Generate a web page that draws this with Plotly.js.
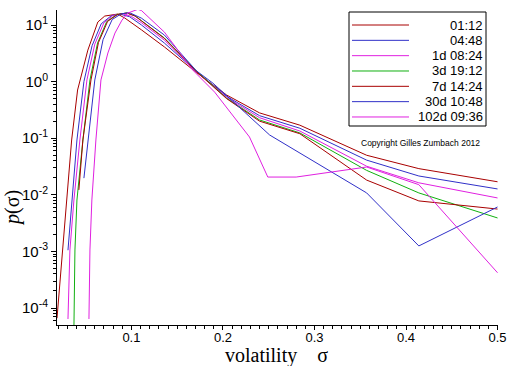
<!DOCTYPE html>
<html>
<head>
<meta charset="utf-8">
<script src="https://cdn.plot.ly/plotly-3.0.1.min.js"></script>
<style>html,body{margin:0;padding:0;background:#fff;}#chart{width:512px;height:366px;}</style>
</head>
<body>
<div id="chart"></div>
<script>
// Series names (legend) and colours
const seriesNames = ["01:12", "04:48", "1d 08:24", "3d 19:12", "7d 14:24", "30d 10:48", "102d 09:36"];
const seriesColors = ["#a80000", "#3030c8", "#e020e0", "#10b010", "#a80000", "#3030c8", "#e020e0"];

// volatility values (x) and densities p(sigma) (y) per series
const sigma0112 = [0.0187,0.0238,0.0292,0.0347,0.0412,0.0524,0.0633,0.0709,0.085,0.0927,0.111,0.136,0.171,0.204,0.24,0.284,0.357,0.414,0.5];
const p0112     = [6.6e-5,7.0e-4,8.1e-3,0.093,0.71,3.6,11.3,14.4,15.6,13.3,8.2,4.1,1.45,0.58,0.28,0.17,0.05,0.029,0.017];

const sigma0448 = [0.0307,0.035,0.0405,0.0481,0.057,0.067,0.078,0.088,0.098,0.111,0.136,0.171,0.204,0.24,0.284,0.357,0.414,0.5];
const p0448     = [1.05e-3,8.1e-3,0.093,1.0,4.3,10.5,14.6,15.5,14.0,10.0,4.8,1.5,0.55,0.25,0.15,0.041,0.0215,0.0127];

const sigma1d   = [0.0307,0.0328,0.0372,0.0437,0.0514,0.06,0.07,0.08,0.09,0.1,0.111,0.136,0.171,0.204,0.24,0.284,0.357,0.414,0.5];
const p1d       = [6.4e-5,1.06e-3,8.1e-3,0.093,1.07,4.6,11.0,14.8,15.8,14.2,11.0,5.4,1.5,0.53,0.23,0.134,0.032,0.0163,0.0088];

const sigma3d   = [0.0372,0.0383,0.0405,0.047,0.0547,0.063,0.073,0.084,0.095,0.104,0.111,0.136,0.171,0.204,0.24,0.284,0.357,0.414,0.5];
const p3d       = [4.5e-5,1.06e-3,8.1e-3,0.093,1.07,4.8,11.5,15.3,16.3,14.5,11.9,5.9,1.55,0.51,0.21,0.124,0.027,0.0108,0.0039];

const sigma7d   = [0.0426,0.047,0.0558,0.064,0.074,0.085,0.095,0.104,0.111,0.136,0.171,0.204,0.24,0.284,0.357,0.414,0.5];
const p7d       = [0.0122,0.093,1.07,4.9,11.6,15.4,16.3,14.4,11.8,5.8,1.5,0.5,0.2,0.12,0.0182,0.0078,0.0056];

const sigma30d  = [0.0481,0.0525,0.06,0.069,0.079,0.089,0.098,0.111,0.136,0.171,0.189,0.251,0.357,0.414,0.5];
const p30d      = [0.0197,0.093,1.07,5.5,12.5,15.8,16.5,13.2,6.65,1.55,0.94,0.114,0.0108,0.00125,0.0061];

const sigma102d = [0.0536,0.0547,0.0568,0.0612,0.0667,0.0743,0.082,0.0897,0.0962,0.107,0.111,0.136,0.167,0.191,0.229,0.249,0.28,0.357,0.414,0.5];
const p102d     = [6.4e-5,1.06e-3,8.1e-3,0.093,1.07,3.2,7.2,12.2,16.3,18.9,18.0,7.5,1.6,0.65,0.105,0.0206,0.0206,0.031,0.0151,4.2e-4];

// Y tick labels
const yTickVals = [1e-4, 1e-3, 1e-2, 1e-1, 1, 10];
const yTickText = ["10<sup>-4</sup>", "10<sup>-3</sup>", "10<sup>-2</sup>", "10<sup>-1</sup>", "10<sup>0</sup>", "10<sup>1</sup>"];

const xs = [sigma0112, sigma0448, sigma1d, sigma3d, sigma7d, sigma30d, sigma102d];
const ys = [p0112, p0448, p1d, p3d, p7d, p30d, p102d];

const traces = seriesNames.map((n, i) => ({
  x: xs[i], y: ys[i], name: n, type: "scatter", mode: "lines",
  line: {color: seriesColors[i], width: 1}, showlegend: false, hoverinfo: "skip"
}));

// minor ticks on log axis: 2..9 in each decade
const minorVals = [];
for (let d = -5; d <= 1; d++) for (let m = 2; m <= 9; m++) minorVals.push(m * Math.pow(10, d));

// Plot-area geometry helpers for the hand-built legend box
const L = 57, R = 14, T = 10, B = 41, W = 512, H = 366;
const pw = W - L - R, ph = H - T - B;
const px2x = px => (px - L) / pw;
const py2y = py => (H - B - py) / ph;

const shapes = [{type: "rect", xref: "paper", yref: "paper",
  x0: px2x(349), x1: px2x(486), y0: py2y(126), y1: py2y(12),
  line: {color: "#000", width: 1}, fillcolor: "#fff", layer: "above"}];
const annotations = [];
seriesNames.forEach((n, i) => {
  const py = 25 + 15.33 * i;
  shapes.push({type: "line", xref: "paper", yref: "paper",
    x0: px2x(352), x1: px2x(409), y0: py2y(py), y1: py2y(py),
    line: {color: seriesColors[i], width: 1}, layer: "above"});
  annotations.push({xref: "paper", yref: "paper", x: px2x(485), y: py2y(py),
    xanchor: "right", yanchor: "middle", text: n, showarrow: false,
    font: {family: "Liberation Sans, Arial, sans-serif", size: 13, color: "#000"}});
});
annotations.push({xref: "paper", yref: "paper", x: px2x(420), y: py2y(143),
  xanchor: "center", yanchor: "middle", text: "Copyright Gilles Zumbach 2012", showarrow: false,
  font: {family: "Liberation Sans, Arial, sans-serif", size: 8.5, color: "#000"}});
annotations.push({xref: "paper", yref: "paper", x: px2x(276), y: py2y(355),
  xanchor: "center", yanchor: "middle", text: "volatility\u00a0\u00a0\u00a0\u00a0σ", showarrow: false,
  font: {family: "Liberation Serif, Times New Roman, serif", size: 20, color: "#000"}});
annotations.push({xref: "paper", yref: "paper", x: px2x(12), y: py2y(208),
  xanchor: "center", yanchor: "middle", text: "<i>p</i>(σ)", textangle: -90, showarrow: false,
  font: {family: "Liberation Serif, Times New Roman, serif", size: 20, color: "#000"}});

const layout = {
  width: W, height: H,
  margin: {l: L, r: R, t: T, b: B, pad: 0},
  paper_bgcolor: "#fff", plot_bgcolor: "#fff",
  showlegend: false,
  xaxis: {
    range: [0.0187, 0.5005], tick0: 0, dtick: 0.1, ticks: "outside", ticklen: 4, tickcolor: "#000",
    ticklabelstandoff: -4,
    showline: true, linecolor: "#000", linewidth: 1, showgrid: false, zeroline: false,
    tickfont: {family: "Liberation Sans, Arial, sans-serif", size: 13, color: "#000"},
    minor: {tick0: 0, dtick: 0.01, ticks: "outside", ticklen: 3, tickcolor: "#000", showgrid: false}
  },
  yaxis: {
    type: "log", range: [-4.3, 1.265], tickmode: "array", tickvals: yTickVals, ticktext: yTickText,
    ticks: "outside", ticklen: 5, tickcolor: "#000",
    showline: true, linecolor: "#000", linewidth: 1, showgrid: false, zeroline: false,
    tickfont: {family: "Liberation Sans, Arial, sans-serif", size: 15, color: "#000"},
    minor: {tickmode: "array", tickvals: minorVals, ticks: "outside", ticklen: 3, tickcolor: "#000", showgrid: false}
  },
  shapes: shapes,
  annotations: annotations
};

Plotly.newPlot("chart", traces, layout, {displayModeBar: false, staticPlot: true});
</script>
</body>
</html>
